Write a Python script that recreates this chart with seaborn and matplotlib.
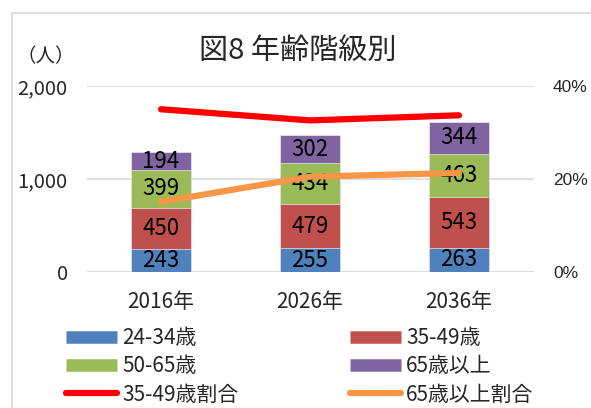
import numpy as np
import pandas as pd
import matplotlib
matplotlib.use("Agg")
import matplotlib.pyplot as plt
from matplotlib.lines import Line2D
from matplotlib.patches import Rectangle
import seaborn as sns

years = ["2016年", "2026年", "2036年"]
age_24_34 = [243, 255, 263]
age_35_49 = [450, 479, 543]
age_50_65 = [399, 434, 463]
age_65_up = [194, 302, 344]
share_35_49 = [35.0, 32.6, 33.7]
share_65_up = [15.1, 20.5, 21.3]
series_names = ["24-34歳", "35-49歳", "50-65歳", "65歳以上"]
line_names = ["35-49歳割合", "65歳以上割合"]

colors = ["#4F81BD", "#C0504D", "#9BBB59", "#8064A2"]
line_colors = ["#FF0000", "#F79646"]

sns.set_style("white")
plt.rcParams['font.family'] = ['Noto Sans CJK JP', 'DejaVu Sans']

W, H = 591, 408
fig = plt.figure(figsize=(W / 100, H / 100), dpi=100)

def fx(px):
    return px / W

def fy(py):
    return 1 - py / H

# chart border
fig.patches.append(Rectangle((fx(12), fy(430)), 1.0, fy(13) - fy(430), transform=fig.transFigure,
                             fill=False, edgecolor="#D9D9D9", lw=1.2))

left, right, top, bottom = 86.5, 533.5, 86, 272
ax = fig.add_axes([fx(left), fy(bottom), fx(right) - fx(left), fy(top) - fy(bottom)])

series = [age_24_34, age_35_49, age_50_65, age_65_up]
cum = np.cumsum(np.array(series), axis=0)

# draw cumulative totals from top to bottom so each layer shows its segment
for i in range(3, -1, -1):
    df = pd.DataFrame({"year": years, "value": cum[i]})
    sns.barplot(data=df, x="year", y="value", color=colors[i], width=0.4,
                saturation=1, ax=ax, edgecolor="#E8E8F0", linewidth=0.5, zorder=2)

# data labels
for i in range(4):
    for j in range(3):
        base = cum[i - 1][j] if i > 0 else 0
        mid = base + series[i][j] / 2
        ax.text(j, mid, str(series[i][j]), ha="center", va="center",
                fontsize=16, color="black", zorder=5)

ax.set_ylim(0, 2000)
ax.set_xlim(-0.5, 2.5)
ax.set_yticks([0, 1000, 2000])
ax.set_yticklabels(["0", "1,000", "2,000"])
ax.yaxis.grid(True, color="#D9D9D9", lw=1.2, zorder=0)
ax.set_axisbelow(True)
for s in ax.spines.values():
    s.set_visible(False)
ax.axhline(0, color="#D9D9D9", lw=1.2, zorder=1)
ax.set_xlabel("")
ax.set_ylabel("")
ax.tick_params(axis="y", length=0, pad=13.5, labelsize=14.5)
ax.tick_params(axis="x", length=0, pad=13.5, labelsize=15)

ax2 = ax.twinx()
ax2.set_position(ax.get_position())
sns.lineplot(x=np.arange(3), y=share_35_49, color=line_colors[0], lw=4.5, ax=ax2,
             solid_capstyle="round", zorder=4)
sns.lineplot(x=np.arange(3), y=share_65_up, color=line_colors[1], lw=4.5, ax=ax2,
             solid_capstyle="round", zorder=4)
ax2.set_ylim(0, 40)
ax2.set_yticks([0, 20, 40])
ax2.tick_params(axis="y", length=0, pad=14, labelsize=12.5)
ax2.set_yticklabels(["0%", "20%", "40%"], fontfamily=["Liberation Sans", "DejaVu Sans"])
for s in ax2.spines.values():
    s.set_visible(False)
ax2.set_ylabel("")
ax2.grid(False)

# title and unit
fig.text(fx(298), fy(51), "図8 年齢階級別", ha="center", va="center", fontsize=21)
fig.text(fx(46), fy(57), "（人）", ha="center", va="center", fontsize=14)

# legends
def patch_handle(c):
    return Line2D([0], [0], color=c, lw=9, solid_capstyle="butt")

def line_handle(c):
    return Line2D([0], [0], color=c, lw=4.5, solid_capstyle="round")

h1 = [patch_handle(colors[0]), patch_handle(colors[2]), line_handle(line_colors[0])]
l1 = [series_names[0], series_names[2], line_names[0]]
h2 = [patch_handle(colors[1]), patch_handle(colors[3]), line_handle(line_colors[1])]
l2 = [series_names[1], series_names[3], line_names[1]]

leg_kw = dict(frameon=False, fontsize=15, handlelength=2.45, handletextpad=0.25,
              labelspacing=0.3, borderpad=0, borderaxespad=0, loc="upper left")
lg1 = fig.legend(h1, l1, bbox_to_anchor=(fx(66), fy(327)), **leg_kw)
lg2 = fig.legend(h2, l2, bbox_to_anchor=(fx(350), fy(327)), **leg_kw)

fig.savefig("out.png", dpi=100)
